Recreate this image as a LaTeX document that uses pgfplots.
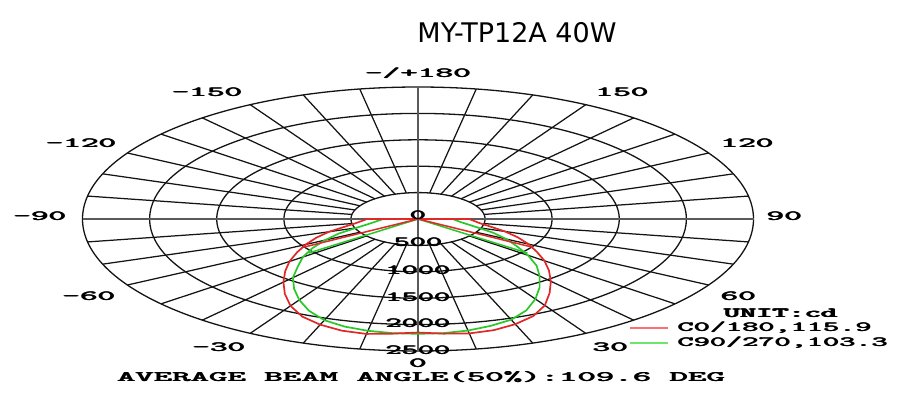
\documentclass[border=0pt]{standalone}
\usepackage{fontspec}
\usepackage{graphicx}
\usepackage{pgfplots}
\pgfplotsset{compat=1.18}
\usepackage{pgfplotstable}
\newfontfamily\titlefont{DejaVu Sans}
\definecolor{gridc}{HTML}{141414}
\definecolor{axc}{HTML}{5A5A5A}
\definecolor{cred}{HTML}{E02828}
\definecolor{cgreen}{HTML}{28C828}
\definecolor{lred}{HTML}{FF6E6E}
\definecolor{lgreen}{HTML}{6EE66E}
\newcommand\fb[1]{\makebox[0pt][l]{#1}\hspace{0.4bp}#1}
\newcommand\fbb[1]{\makebox[0pt][l]{#1}\hspace{0.35bp}\makebox[0pt][l]{#1}\hspace{0.35bp}#1}
\newcommand\lab[2][2.2]{\scalebox{#1}[1]{\fontsize{14bp}{14bp}\selectfont\ttfamily\bfseries\fb{#2}}}

% C0/180 plane: phi = theta - 90 (theta = 0 at nadir, + to the right), intensity in cd
\pgfplotstableread{
phi r
-180 0
-180 380
-175 420
-170 475
-165 565
-160 705
-155 835
-150 965
-145 1100
-140 1250
-135 1400
-130 1560
-125 1730
-120 1900
-115 2040
-110 2130
-105 2190
-100 2210
-95 2180
-90 2150
-85 2180
-80 2200
-75 2180
-70 2120
-65 2030
-60 1890
-55 1710
-50 1540
-45 1380
-40 1230
-35 1080
-30 950
-25 820
-20 690
-15 560
-10 470
-5 420
0 380
0 0
}\redtab

% C90/270 plane
\pgfplotstableread{
phi r
-180 0
-180 260
-175 290
-170 330
-165 390
-160 490
-155 650
-150 800
-145 960
-140 1120
-135 1265
-130 1450
-125 1610
-120 1770
-115 1920
-110 2040
-105 2110
-100 2150
-95 2170
-90 2175
-85 2170
-80 2145
-75 2095
-70 2030
-65 1910
-60 1750
-55 1580
-50 1410
-45 1250
-40 1070
-35 900
-30 760
-25 620
-20 475
-15 380
-10 320
-5 285
0 260
0 0
}\greentab

\begin{document}
\begin{tikzpicture}
\begin{axis}[
  at={(418bp,-219bp)}, anchor=origin,
  scale only axis, width=671bp, height=264bp,
  xmin=-2500, xmax=2500, ymin=-2500, ymax=2500,
  hide axis, clip=false]
  % grid
  \pgfplotsinvokeforeach{500,1000,1500,2000,2500}{
    \draw[gridc, line width=1.3bp] (axis cs:0,0) ellipse [x radius=#1, y radius=#1];
  }
  \pgfplotsinvokeforeach{0,10,...,350}{
    \draw[gridc, line width=1.25bp] (axis cs:{500*cos(#1)},{500*sin(#1)}) -- (axis cs:{2500*cos(#1)},{2500*sin(#1)});
  }
  \draw[axc, line width=1.6bp] (axis cs:-2500,0) -- (axis cs:2500,0);
  \draw[axc, line width=1.6bp] (axis cs:0,-2500) -- (axis cs:0,2500);
  % curves
  \addplot[cgreen, line width=1.7bp, data cs=polar] table[x=phi, y=r] {\greentab};
  \addplot[cred, line width=1.7bp, data cs=polar] table[x=phi, y=r] {\redtab};
  % beam angle lines
  \addplot[cgreen, line width=1.5bp, data cs=polar] coordinates {(-141.65,1040) (0,0) (-38.35,1040)};
  \addplot[cred, line width=1.5bp, data cs=polar] coordinates {(-147.95,1010) (0,0) (-32.05,1010)};
\end{axis}
% texts
\node[anchor=center] at (517bp,-33bp) {\titlefont\fontsize{27bp}{27bp}\selectfont MY-TP12A 40W};
\node[inner sep=0] at (418bp,-73bp) {\lab[2.4]{-/+180}};
\node[inner sep=0, anchor=east] at (243bp,-92bp) {\lab[2.4]{-150}};
\node[inner sep=0, anchor=west] at (595bp,-92bp) {\lab[2.4]{150}};
\node[inner sep=0, anchor=east] at (117bp,-143bp) {\lab[2.4]{-120}};
\node[inner sep=0, anchor=west] at (720bp,-143bp) {\lab[2.4]{120}};
\node[inner sep=0, anchor=east] at (67bp,-216bp) {\lab[2.4]{-90}};
\node[inner sep=0, anchor=west] at (766bp,-216bp) {\lab[2.4]{90}};
\node[inner sep=0, anchor=east] at (116bp,-296bp) {\lab[2.4]{-60}};
\node[inner sep=0, anchor=west] at (720bp,-296bp) {\lab[2.4]{60}};
\node[inner sep=0, anchor=east] at (246bp,-347bp) {\lab[2.4]{-30}};
\node[inner sep=0, anchor=west] at (592bp,-347bp) {\lab[2.4]{30}};
\node[inner sep=0] at (418bp,-363bp) {\lab[2.4]{0}};
\node[inner sep=0] at (418bp,-215bp) {\lab{0}};
\node[inner sep=0] at (418bp,-242bp) {\lab{500}};
\node[inner sep=0] at (418bp,-270bp) {\lab{1000}};
\node[inner sep=0] at (418bp,-297bp) {\lab{1500}};
\node[inner sep=0] at (418bp,-323bp) {\lab{2000}};
\node[inner sep=0] at (418bp,-350bp) {\lab{2500}};
\node[inner sep=0] at (421bp,-377bp) {\scalebox{2.42}[1]{\fontsize{14.5bp}{14.5bp}\selectfont\ttfamily\bfseries\fb{AVERAGE BEAM ANGLE(50\%):109.6 DEG}}};
\node[inner sep=0, anchor=west] at (723bp,-313bp) {\scalebox{2.2}[1]{\fontsize{14bp}{14bp}\selectfont\ttfamily\bfseries\fbb{UNIT:cd}}};
\draw[lred, line width=1.2bp] (630bp,-328bp) -- (668bp,-328bp);
\node[inner sep=0, anchor=west] at (677bp,-328bp) {\lab{C0/180,115.9}};
\draw[lgreen, line width=1.2bp] (630bp,-343bp) -- (668bp,-343bp);
\node[inner sep=0, anchor=west] at (677bp,-343bp) {\lab{C90/270,103.3}};
\pgfresetboundingbox
\path[use as bounding box] (0,0) rectangle (902bp,-401bp);
\end{tikzpicture}
\end{document}
